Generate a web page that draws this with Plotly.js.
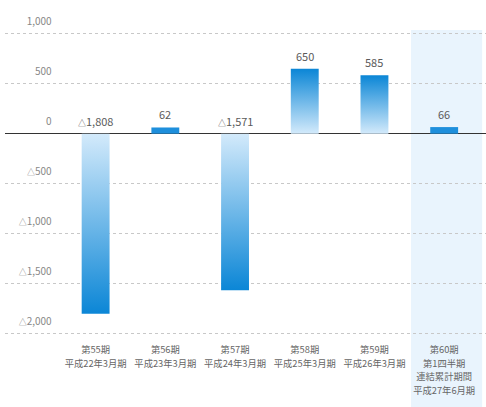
<!DOCTYPE html>
<html>
<head>
<meta charset="utf-8">
<script src="https://cdn.plot.ly/plotly-3.0.1.min.js"></script>
<style>html,body{margin:0;padding:0;background:#fff}#chart{width:486px;height:407px}</style>
</head>
<body>
<div id="chart"></div>
<script>
var periods = ['第55期', '第56期', '第57期', '第58期', '第59期', '第60期'];
var periodDates = ['平成22年3月期', '平成23年3月期', '平成24年3月期', '平成25年3月期', '平成26年3月期', '第1四半期<br>連結累計期間<br>平成27年6月期'];
var values = [-1808, 62, -1571, 650, 585, 66];
var yTickVals = [-2000, -1500, -1000, -500, 0, 500, 1000];
var yTickText = ['△2,000', '△1,500', '△1,000', '△500', '0', '500', '1,000'];

var tri = '<span style="font-size:8px">△</span>';
function fmt(v) {
  var s = Math.abs(v).toLocaleString('en-US');
  return v < 0 ? tri + s : s;
}

var cats = periods.map(function (p, i) { return p + '|' + i; });
var tickText = periods.map(function (p, i) { return p + '<br>' + periodDates[i]; });

var trace = {
  type: 'bar',
  x: cats,
  y: values,
  width: 0.4,
  marker: { color: '#1e8fdc', line: { width: 0 } },
  hoverinfo: 'none'
};

var annotations = values.map(function (v, i) {
  return {
    x: cats[i], y: Math.max(v, 0), xref: 'x', yref: 'y',
    text: fmt(v), showarrow: false, yanchor: 'bottom', yshift: 3,
    font: { size: 11, color: '#5a5a5a' }
  };
});

var layout = {
  width: 486, height: 407,
  margin: { l: 5, r: 0, t: 30, b: 72 },
  paper_bgcolor: '#fff', plot_bgcolor: 'rgba(0,0,0,0)',
  font: { family: '"Noto Sans CJK JP", "Noto Sans", sans-serif', color: '#666' },
  showlegend: false,
  xaxis: {
    type: 'category', range: [-1.3, 5.6],
    tickvals: cats, ticktext: tickText,
    tickfont: { size: 9.3, color: '#666' },
    ticklabelstandoff: 8,
    showgrid: false, zeroline: false, showline: false, ticks: '',
    fixedrange: true
  },
  yaxis: {
    range: [-2020, 1040],
    tickvals: yTickVals,
    ticktext: yTickText.map(function (t) { return t.replace('△', tri); }),
    tickfont: { size: 10, color: '#888' },
    showgrid: true, gridcolor: '#c8c8c8', gridwidth: 1, griddash: '3px,3px',
    zeroline: true, zerolinecolor: '#333', zerolinewidth: 1.5,
    showline: false, ticks: '',
    anchor: 'free', position: 0.097,
    ticklabelshift: -12,
    fixedrange: true
  },
  shapes: [{
    type: 'rect', xref: 'paper', yref: 'paper', layer: 'below',
    x0: 0.844, x1: 0.992, y0: -0.24, y1: 1.0,
    fillcolor: '#e9f4fd', line: { width: 0 }
  }],
  annotations: annotations
};

Plotly.newPlot('chart', [trace], layout, { displayModeBar: false, staticPlot: true }).then(function (gd) {
  var svg = gd.querySelector('svg.main-svg');
  var ns = 'http://www.w3.org/2000/svg';
  var defs = svg.querySelector('defs') || svg.insertBefore(document.createElementNS(ns, 'defs'), svg.firstChild);
  function grad(id, top, bottom) {
    var g = document.createElementNS(ns, 'linearGradient');
    g.setAttribute('id', id);
    g.setAttribute('x1', '0'); g.setAttribute('y1', '0');
    g.setAttribute('x2', '0'); g.setAttribute('y2', '1');
    [[0, top], [1, bottom]].forEach(function (s) {
      var st = document.createElementNS(ns, 'stop');
      st.setAttribute('offset', s[0]);
      st.setAttribute('stop-color', s[1]);
      g.appendChild(st);
    });
    defs.appendChild(g);
  }
  grad('gradNeg', '#d3eafb', '#0b86d6');
  grad('gradPos', '#0b86d6', '#d3eafb');
  var paths = gd.querySelectorAll('.trace.bars .point path');
  paths.forEach(function (p, i) {
    var v = values[i];
    if (Math.abs(v) < 200) { p.style.fill = '#1e8fdc'; return; }
    p.style.fill = v < 0 ? 'url(#gradNeg)' : 'url(#gradPos)';
  });
  // widen line spacing of multi-line category labels to match the reference
  gd.querySelectorAll('.xtick text tspan.line').forEach(function (t, i) {
    var dy = t.getAttribute('dy');
    if (dy && dy !== '0em' && parseFloat(dy) !== 0) {
      t.setAttribute('dy', (parseFloat(dy) / 1.3 * 1.45) + 'em');
    }
  });
});
</script>
</body>
</html>
